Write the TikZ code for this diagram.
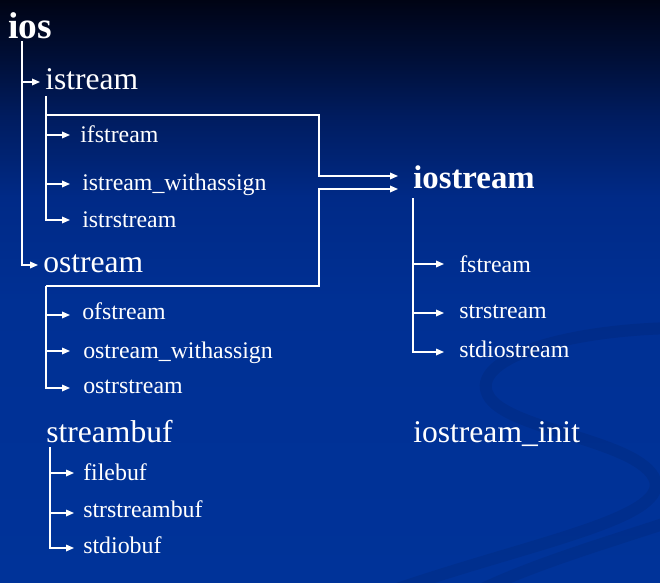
\documentclass[tikz,border=0pt]{standalone}
\usepackage{fontspec}
\setmainfont{Liberation Serif}
\usetikzlibrary{arrows.meta,calc}

% background colours, top to bottom
\definecolor{bgtop}{RGB}{0,4,20}
\definecolor{bg0}{RGB}{0,6,28}
\definecolor{bg1}{RGB}{0,15,55}
\definecolor{bg2}{RGB}{0,28,95}
\definecolor{bg3}{RGB}{0,42,135}
\definecolor{bg4}{RGB}{0,48,148}
\definecolor{bgbot}{RGB}{0,51,153}
\pgfdeclareverticalshading{bgshade}{100bp}{color(0bp)=(bgbot); color(25bp)=(bgbot);
  color(49bp)=(bg4); color(58bp)=(bg3); color(65bp)=(bg2); color(70bp)=(bg1);
  color(74bp)=(bg0); color(75bp)=(bgtop); color(100bp)=(bgtop)}

\tikzset{
  lbl/.style={anchor=base west, inner sep=0pt, text=white},
  big/.style={lbl, font=\fontsize{23.7}{26}\selectfont},
  sub/.style={lbl, font=\fontsize{17.9}{20}\selectfont},
  hd/.style={lbl, font=\bfseries\fontsize{24.6}{28}\selectfont},
  wire/.style={draw=white, line width=0.9pt},
  arr/.style={wire, -{Triangle[length=6pt,width=5pt]}},
  swirl/.style={draw=black, draw opacity=0.07, line width=9pt, line cap=round},
}

\begin{document}
\begin{tikzpicture}[x=0.75pt,y=-0.75pt]
\useasboundingbox (0,0) rectangle (660,582);
\shade[shading=bgshade] (0,0) rectangle (660,582);

% faint ribbon in the lower right corner
\draw[swirl] (675,328) .. controls (560,330) and (470,360) .. (488,395)
  .. controls (505,430) and (640,440) .. (655,480)
  .. controls (668,520) and (520,545) .. (380,595);
\draw[swirl] (675,520) .. controls (600,545) and (530,565) .. (470,595);

% class names
\node[hd, font=\bfseries\fontsize{28}{30}\selectfont] (ios) at (8,38) {ios};
\node[big] (istream) at (45,89) {istream};
\node[sub] (ifstream) at (80,142) {ifstream};
\node[sub] (iswa) at (82,190) {istream\_withassign};
\node[sub] (istrstream) at (82,227) {istrstream};
\node[big] (ostream) at (43,272) {ostream};
\node[sub] (ofstream) at (82,319) {ofstream};
\node[sub] (oswa) at (83,358) {ostream\_withassign};
\node[sub] (ostrstream) at (83,393) {ostrstream};
\node[big] (streambuf) at (46,442) {streambuf};
\node[sub] (filebuf) at (83,480) {filebuf};
\node[sub] (strstreambuf) at (83,517) {strstreambuf};
\node[sub] (stdiobuf) at (83,553) {stdiobuf};
\node[hd] (iostream) at (413,188) {iostream};
\node[sub] (fstream) at (459,272) {fstream};
\node[sub] (strstream) at (459,318) {strstream};
\node[sub] (stdiostream) at (459,357) {stdiostream};
\node[big] (init) at (413,442) {iostream\_init};

% trunk tops and arrow targets
\coordinate (iosT) at ($(ios.base west)+(14,3)$);
\coordinate (isT) at ($(istream.base west)+(1,7)$);
\coordinate (isJ) at ($(isT)+(0,19)$);
\coordinate (osT) at ($(ostream.base west)+(3,14)$);
\coordinate (sbT) at ($(streambuf.base west)+(4,5)$);
\coordinate (ioT) at ($(iostream.base west)+(0,10)$);

\coordinate (istreamA) at ($(istream.base west)+(-5,-7)$);
\coordinate (ostreamA) at ($(ostream.base west)+(-5,-7)$);
\coordinate (ifstreamA) at ($(ifstream.base west)+(-10,-7)$);
\coordinate (iswaA) at ($(iswa.base west)+(-12,-6)$);
\coordinate (istrstreamA) at ($(istrstream.base west)+(-12,-7)$);
\coordinate (ofstreamA) at ($(ofstream.base west)+(-12,-4)$);
\coordinate (oswaA) at ($(oswa.base west)+(-13,-7)$);
\coordinate (ostrstreamA) at ($(ostrstream.base west)+(-13,-5)$);
\coordinate (filebufA) at ($(filebuf.base west)+(-9,-7)$);
\coordinate (strstreambufA) at ($(strstreambuf.base west)+(-9,-4)$);
\coordinate (stdiobufA) at ($(stdiobuf.base west)+(-9,-5)$);
\coordinate (fstreamA) at ($(fstream.base west)+(-15,-8)$);
\coordinate (strstreamA) at ($(strstream.base west)+(-15,-5)$);
\coordinate (stdiostreamA) at ($(stdiostream.base west)+(-15,-5)$);
\coordinate (ioA) at ($(iostream.base west)+(-15,-12)$);
\coordinate (ioB) at ($(iostream.base west)+(-15,1)$);
\coordinate (jA) at ($(ioA)+(-79,0)$);
\coordinate (jB) at ($(ioB)+(-79,0)$);

% ios
\draw[arr] (iosT) |- (istreamA);
\draw[arr] (iosT) |- (ostreamA);

% istream
\draw[arr] (isT) |- (istrstreamA);
\draw[arr] (isT |- ifstreamA) -- (ifstreamA);
\draw[arr] (isT |- iswaA) -- (iswaA);

% ostream
\draw[arr] (osT) |- (ostrstreamA);
\draw[arr] (osT |- ofstreamA) -- (ofstreamA);
\draw[arr] (osT |- oswaA) -- (oswaA);

% both feed iostream
\draw[arr] (isJ) -| (jA) -- (ioA);
\draw[arr] (osT) -| (jB) -- (ioB);

% streambuf
\draw[arr] (sbT) |- (stdiobufA);
\draw[arr] (sbT |- filebufA) -- (filebufA);
\draw[arr] (sbT |- strstreambufA) -- (strstreambufA);

% iostream
\draw[arr] (ioT) |- (stdiostreamA);
\draw[arr] (ioT |- fstreamA) -- (fstreamA);
\draw[arr] (ioT |- strstreamA) -- (strstreamA);
\end{tikzpicture}
\end{document}
